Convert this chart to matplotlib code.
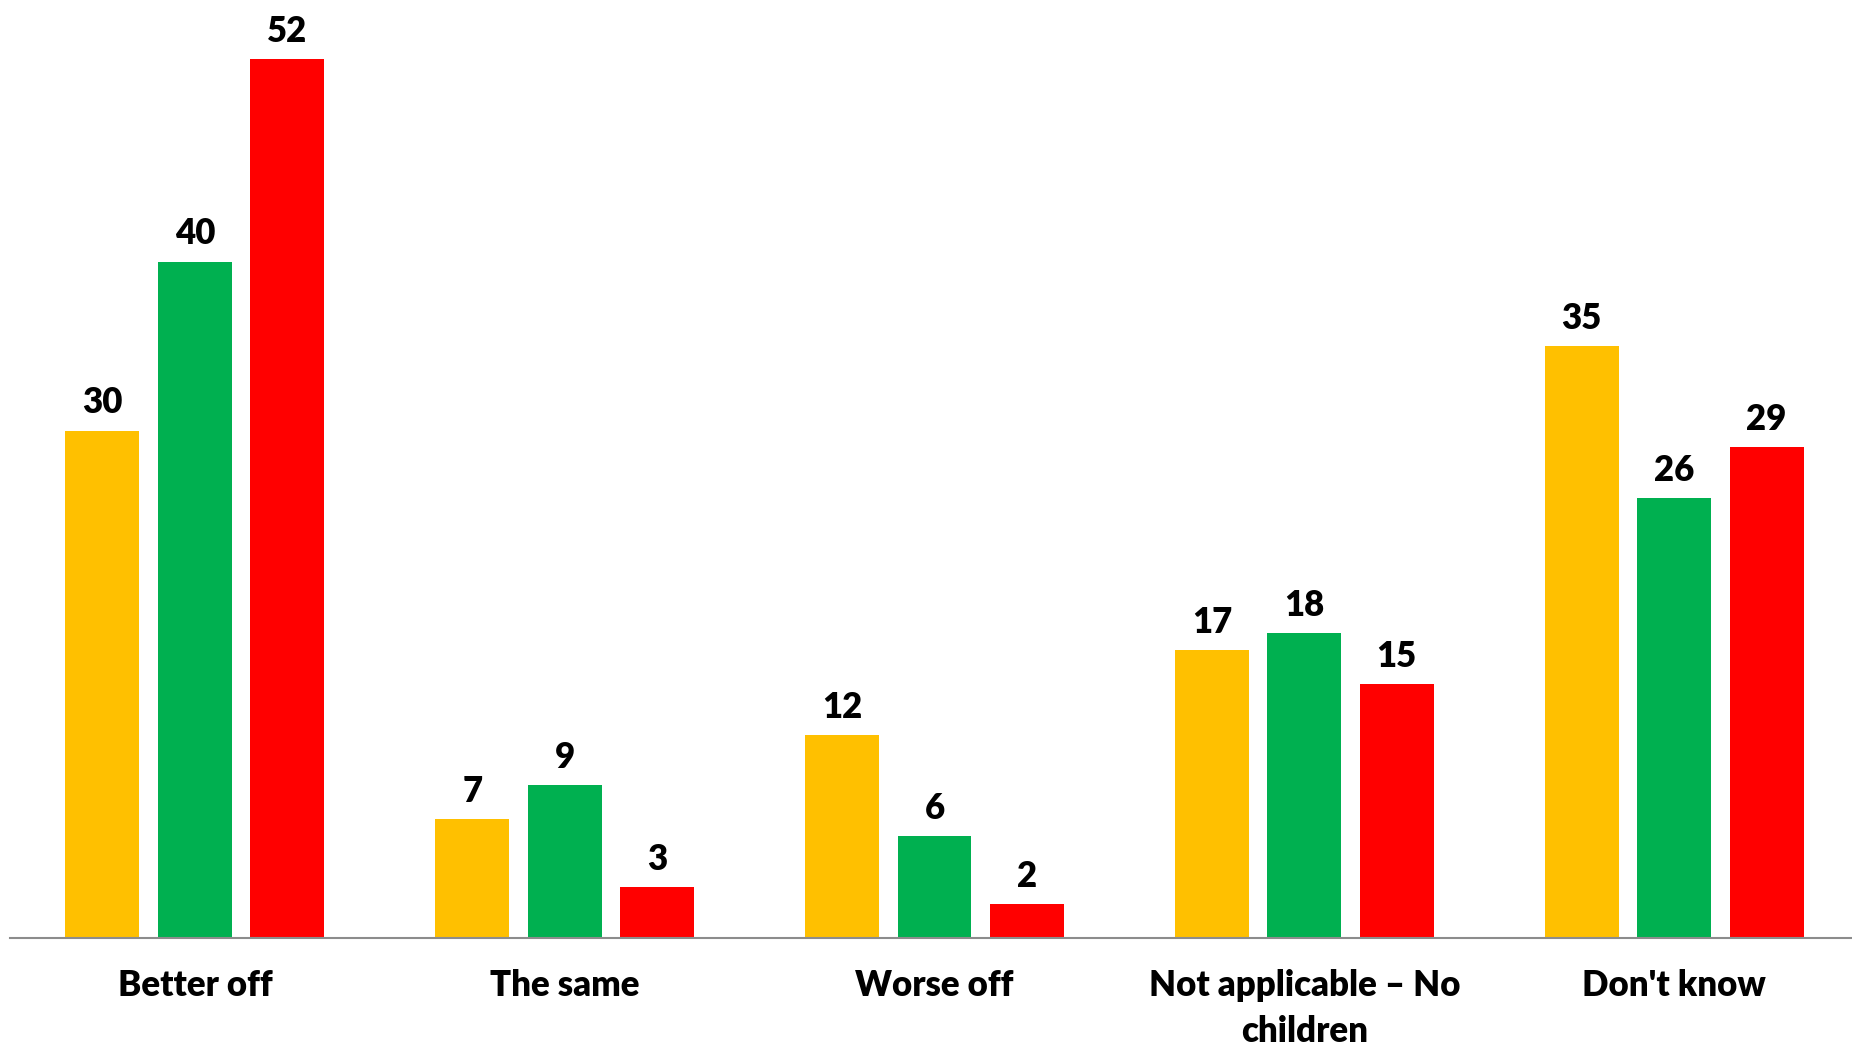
import numpy as np
import matplotlib.pyplot as plt


# =========================
# DATA
# =========================

CATEGORIES = ["Better off", "The same", "Worse off", "Not applicable – No\nchildren", "Don't know"]

SERIES_A = [30, 7, 12, 17, 35]   # yellow
SERIES_B = [40, 9, 6, 18, 26]    # green
SERIES_C = [52, 3, 2, 15, 29]    # red

COLORS = ["#FFC000", "#00B050", "#FF0000"]


# =========================
# PLOT
# =========================

plt.rcParams["font.family"] = ["Lato", "DejaVu Sans"]

fig = plt.figure(figsize=(18.52, 10.47), dpi=100)

W, H = 1852, 1047
left_px, right_px = 10, 1859
bottom_px, top_px = 937.5, 8
ax = fig.add_axes([
    left_px / W,
    1 - bottom_px / H,
    (right_px - left_px) / W,
    (bottom_px - top_px) / H,
])

x = np.arange(len(CATEGORIES))
width = 0.2
step = 0.25

for i, (vals, color) in enumerate(zip([SERIES_A, SERIES_B, SERIES_C], COLORS)):
    bars = ax.bar(x + (i - 1) * step, vals, width=width, color=color, edgecolor="none")
    for b, v in zip(bars, vals):
        ax.annotate(
            f"{v}",
            (b.get_x() + b.get_width() / 2, b.get_height()),
            xytext=(0, 8),
            textcoords="offset points",
            ha="center",
            va="bottom",
            fontsize=25,
            fontweight="heavy",
        )

ax.set_xlim(-0.5, 4.5)
ax.set_ylim(0, 55)

ax.set_xticks(x)
ax.set_xticklabels(CATEGORIES, fontsize=25, fontweight="heavy", linespacing=1.45)
ax.tick_params(axis="x", length=0, pad=23)
ax.set_yticks([])

for side in ["top", "right", "left"]:
    ax.spines[side].set_visible(False)
ax.spines["bottom"].set_color("#8C8C8C")
ax.spines["bottom"].set_linewidth(1.5)

fig.savefig("out.png", dpi=100)
